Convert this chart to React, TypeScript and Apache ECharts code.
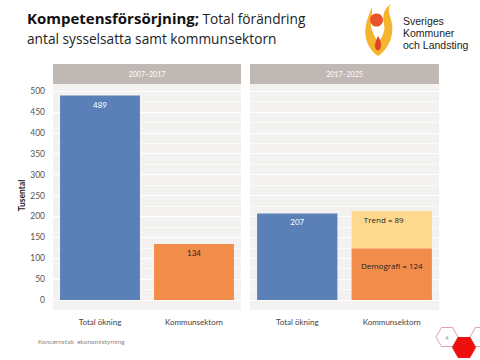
import React, { useEffect, useRef } from "react";
import * as echarts from "echarts";

const categories = ["Total ökning", "Kommunsektorn"];
const periods = ["2007–2017", "2017–2025"];
const leftValues = [489, 134];
const rightTotal = [207, null];
const rightDemografi = [null, 124];
const rightTrend = [null, 89];
const yTicks = { min: 0, max: 500, interval: 50 };
const logoLines = ["Sveriges", "Kommuner", "och Landsting"];

const BLUE = "#5b80b8";
const ORANGE = "#f28c4b";
const YELLOW = "#fdd98f";
const PANEL_BG = "#f3f2f1";
const STRIP = "#bfb8b4";

echarts.graphic.registerShape(
  "sklLogoYellow",
  echarts.graphic.extendPath(
    "M378,56 C369,50 363,38 366,25 C367,18 370,13 372,7 C373,14 369,22 372,30 C374,36 377,40 378,44 Z M378,56 C387,50 394,38 392,24 C391,16 386,10 391,4 C384,8 382,16 384,24 C386,32 381,38 378,44 Z",
    {}
  )
);
echarts.graphic.registerShape(
  "sklLogoDrop",
  echarts.graphic.extendPath("M378,36 C381,41 382,45 380,49 C378,52 375,50 375,46 C375,43 376,40 378,36 Z", {})
);

function hex(cx: number, cy: number, r: number) {
  const h = r * 0.866;
  return [
    [cx - r, cy],
    [cx - r / 2, cy - h],
    [cx + r / 2, cy - h],
    [cx + r, cy],
    [cx + r / 2, cy + h],
    [cx - r / 2, cy + h],
  ];
}

export default function App() {
  const ref = useRef<HTMLDivElement>(null);
  useEffect(() => {
    if (!ref.current) return;
    const chart = echarts.init(ref.current, undefined, { renderer: "svg" });
    const font = "Lato";
    const yAxisBase = {
      type: "value",
      min: yTicks.min,
      max: yTicks.max,
      interval: yTicks.interval,
      axisLine: { show: false },
      axisTick: { show: false },
      splitLine: { show: true, lineStyle: { color: "#ffffff", width: 1 } },
      minorTick: { show: false, splitNumber: 2 },
      minorSplitLine: { show: true, lineStyle: { color: "#fbfbfa", width: 1 } },
    };
    const xAxisBase = {
      type: "category",
      data: categories,
      axisLine: { show: false },
      axisTick: { show: false },
      axisLabel: { color: "#444", fontSize: 8, fontFamily: font, margin: 18 },
    };
    chart.setOption({
      animation: false,
      backgroundColor: "#ffffff",
      grid: [
        { left: 53, width: 188, top: 91, height: 209 },
        { left: 250, width: 189, top: 91, height: 209 },
      ],
      xAxis: [
        { ...xAxisBase, gridIndex: 0 },
        { ...xAxisBase, gridIndex: 1 },
      ],
      yAxis: [
        {
          ...yAxisBase,
          gridIndex: 0,
          name: "Tusental",
          nameLocation: "middle",
          nameGap: 27,
          nameTextStyle: { color: "#222", fontSize: 8.5, fontWeight: "bold", fontFamily: font },
          axisLabel: { color: "#555", fontSize: 8.5, fontFamily: font, margin: 8 },
        },
        { ...yAxisBase, gridIndex: 1, axisLabel: { show: false } },
      ],
      graphic: [
        { type: "rect", z: -10, shape: { x: 53, y: 84, width: 188, height: 226 }, style: { fill: PANEL_BG } },
        { type: "rect", z: -10, shape: { x: 250, y: 84, width: 189, height: 226 }, style: { fill: PANEL_BG } },
        { type: "rect", z: 5, shape: { x: 53, y: 64, width: 188, height: 20 }, style: { fill: STRIP } },
        { type: "rect", z: 5, shape: { x: 250, y: 64, width: 189, height: 20 }, style: { fill: STRIP } },
        {
          type: "text", z: 6, x: 147, y: 74,
          style: { text: periods[0], fill: "#fff", fontSize: 7, fontFamily: font, align: "center", verticalAlign: "middle" },
        },
        {
          type: "text", z: 6, x: 344.5, y: 74,
          style: { text: periods[1], fill: "#fff", fontSize: 7, fontFamily: font, align: "center", verticalAlign: "middle" },
        },
        {
          type: "text", x: 27, y: 8,
          style: {
            text: "{b|Kompetensförsörjning;} {r|Total förändring}\n{r|antal sysselsatta samt kommunsektorn}",
            rich: {
              b: { fontSize: 15, fontWeight: "bold", fontFamily: "Open Sans", fill: "#111", lineHeight: 20 },
              r: { fontSize: 13.7, fontFamily: "Open Sans", fill: "#222", lineHeight: 20 },
            },
          },
        },
        { type: "sklLogoYellow", x: 0, y: 0, style: { fill: "#f6b32c" } },
        { type: "circle", shape: { cx: 376.5, cy: 20, r: 6.5 }, style: { fill: "#e8532a" } },
        { type: "sklLogoDrop", x: 0, y: 0, style: { fill: "#e0422a" } },
        ...logoLines.map((t, i) => ({
          type: "text", x: 403, y: 21 + i * 12,
          style: { text: t, fontSize: 10.5, lineHeight: 11, fontFamily: "Liberation Sans", fill: "#222", verticalAlign: "middle" },
        })),
        {
          type: "text", x: 38, y: 341,
          style: { text: "Koncernstab  ekonomistyrning", fontSize: 6.5, fontFamily: font, fill: "#888", verticalAlign: "middle" },
        },
        { type: "polygon", shape: { points: hex(447, 337, 11) }, style: { fill: "#fff", stroke: "#d9a3a3", lineWidth: 1 } },
        {
          type: "text", x: 447, y: 337,
          style: { text: "4", fontSize: 6.5, fontFamily: font, fill: "#999", align: "center", verticalAlign: "middle" },
        },
        { type: "polygon", shape: { points: hex(481, 337, 11) }, style: { fill: "#fff", stroke: "#d9a3a3", lineWidth: 1 } },
        { type: "polygon", shape: { points: hex(464, 347.5, 12) }, style: { fill: "#ee0f0f" } },
      ],
      series: [
        {
          type: "bar",
          xAxisIndex: 0,
          yAxisIndex: 0,
          barCategoryGap: "15%",
          data: [
            { value: leftValues[0], itemStyle: { color: BLUE }, label: { color: "#fff" } },
            { value: leftValues[1], itemStyle: { color: ORANGE }, label: { color: "#222" } },
          ],
          label: { show: true, position: "insideTop", distance: 5, fontSize: 8, fontFamily: font },
        },
        {
          type: "bar",
          name: "Total",
          xAxisIndex: 1,
          yAxisIndex: 1,
          stack: "a",
          barCategoryGap: "15%",
          data: rightTotal.map((v) => (v == null ? "-" : v)),
          itemStyle: { color: BLUE },
          label: { show: true, position: "insideTop", distance: 5, fontSize: 8, fontFamily: font, color: "#fff" },
        },
        {
          type: "bar",
          name: "Demografi",
          xAxisIndex: 1,
          yAxisIndex: 1,
          stack: "a",
          barCategoryGap: "15%",
          data: rightDemografi.map((v) => (v == null ? "-" : v)),
          itemStyle: { color: ORANGE },
          label: {
            show: true, position: "insideTop", distance: 13, fontSize: 8, fontFamily: "Open Sans", color: "#222",
            formatter: (p: any) => "Demografi = " + p.value,
          },
        },
        {
          type: "bar",
          name: "Trend",
          xAxisIndex: 1,
          yAxisIndex: 1,
          stack: "a",
          barCategoryGap: "15%",
          data: rightTrend.map((v) => (v == null ? "-" : v)),
          itemStyle: { color: YELLOW },
          label: {
            show: true, position: "insideTop", distance: 5, fontSize: 8, fontFamily: "Open Sans", color: "#222",
            offset: [-8, 0],
            formatter: (p: any) => "Trend = " + p.value,
          },
        },
      ],
    });
    return () => chart.dispose();
  }, []);
  return <div ref={ref} style={{ width: 480, height: 360, position: "fixed", left: 0, top: 0 }} />;
}
